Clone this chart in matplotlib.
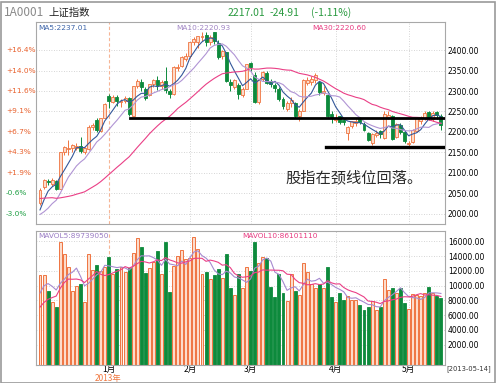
import numpy as np
import pandas as pd
import matplotlib
matplotlib.use("Agg")
import matplotlib.pyplot as plt
from matplotlib.patches import Rectangle

plt.rcParams['font.family'] = ['Noto Sans CJK SC', 'DejaVu Sans']

# closes / volumes before the first shown day, only used to start the moving averages
warmup_close = [2058, 2059, 2069, 2104, 2117, 2111, 2106, 2105, 2071, 2069,
                2070, 2036, 2041, 2025, 2014, 2017, 2010, 2025, 2011, 2027,
                2017, 1991, 1973, 1978, 1980, 1959, 1973, 2031, 2029]
warmup_vol = [5000, 5200, 5400, 5100, 5300, 6500, 7800, 9600, 9650]

# daily candles, 2012-12-07 .. 2013-05-14
opens = [2027, 2066, 2081, 2074, 2080, 2062, 2152, 2158, 2160, 2162,
         2166, 2150, 2158, 2212, 2230, 2203, 2234, 2289, 2273, 2286,
         2272, 2275, 2283, 2240, 2313, 2322, 2306, 2290, 2316, 2328,
         2312, 2324, 2300, 2293, 2355, 2360, 2378, 2385, 2420, 2420,
         2432, 2436, 2420, 2444, 2418, 2385, 2394, 2322, 2310, 2315,
         2290, 2305, 2368, 2340, 2272, 2330, 2345, 2325, 2315, 2305,
         2280, 2257, 2270, 2270, 2238, 2252, 2320, 2322, 2328, 2322,
         2295, 2290, 2245, 2230, 2238, 2230, 2198, 2214, 2222, 2232,
         2220, 2198, 2172, 2192, 2203, 2185, 2236, 2240, 2188, 2218,
         2200, 2170, 2175, 2203, 2228, 2235, 2248, 2232, 2248, 2240]
highs = [2063, 2085, 2086, 2088, 2082, 2151, 2165, 2180, 2170, 2172,
         2188, 2163, 2216, 2222, 2235, 2234, 2270, 2292, 2291, 2291,
         2280, 2288, 2286, 2312, 2329, 2330, 2310, 2318, 2330, 2336,
         2328, 2358, 2305, 2360, 2365, 2386, 2392, 2420, 2431, 2435,
         2445, 2444, 2436, 2445, 2424, 2400, 2396, 2330, 2330, 2320,
         2310, 2366, 2370, 2346, 2330, 2350, 2348, 2330, 2320, 2310,
         2285, 2275, 2285, 2272, 2256, 2330, 2334, 2336, 2344, 2325,
         2312, 2292, 2250, 2245, 2240, 2232, 2215, 2228, 2232, 2236,
         2224, 2200, 2198, 2205, 2206, 2250, 2250, 2242, 2222, 2222,
         2205, 2178, 2208, 2237, 2240, 2252, 2252, 2252, 2251, 2244]
lows = [2022, 2062, 2070, 2068, 2058, 2060, 2143, 2145, 2152, 2155,
        2148, 2146, 2156, 2206, 2200, 2200, 2233, 2258, 2271, 2264,
        2262, 2270, 2240, 2238, 2307, 2301, 2278, 2287, 2310, 2303,
        2305, 2295, 2283, 2290, 2348, 2358, 2373, 2380, 2412, 2405,
        2421, 2410, 2412, 2415, 2378, 2377, 2323, 2300, 2305, 2280,
        2285, 2304, 2350, 2270, 2268, 2325, 2316, 2310, 2298, 2275,
        2255, 2250, 2262, 2235, 2228, 2250, 2315, 2315, 2320, 2290,
        2290, 2236, 2222, 2225, 2220, 2218, 2180, 2210, 2215, 2220,
        2203, 2178, 2168, 2188, 2185, 2183, 2232, 2180, 2185, 2195,
        2172, 2164, 2172, 2200, 2220, 2230, 2230, 2228, 2232, 2205]
closes = [2058, 2083, 2078, 2083, 2061, 2150, 2163, 2162, 2168, 2166,
          2153, 2160, 2213, 2216, 2205, 2233, 2269, 2276, 2285, 2276,
          2275, 2283, 2243, 2311, 2325, 2309, 2284, 2317, 2328, 2315,
          2321, 2302, 2292, 2358, 2359, 2382, 2385, 2419, 2428, 2433,
          2434, 2419, 2432, 2421, 2382, 2397, 2325, 2314, 2326, 2293,
          2306, 2365, 2359, 2273, 2326, 2347, 2319, 2318, 2308, 2280,
          2263, 2270, 2278, 2240, 2251, 2326, 2328, 2329, 2338, 2297,
          2300, 2240, 2237, 2234, 2225, 2225, 2212, 2226, 2226, 2225,
          2206, 2181, 2195, 2197, 2194, 2245, 2242, 2184, 2219, 2199,
          2178, 2174, 2205, 2235, 2236, 2247, 2235, 2247, 2242, 2217]
# volume in units of 10k
volumes = [11450, 11450, 9290, 7750, 7160, 15880, 14260, 12500, 9330, 9960,
           10280, 7840, 14260, 12130, 12810, 12050, 12580, 13850, 11550, 12230,
           12500, 11900, 12350, 14390, 16420, 15210, 11780, 12430, 13170, 14750,
           11630, 15970, 9190, 12660, 14070, 14840, 13620, 13710, 16560, 14930,
           11550, 11900, 10870, 11450, 12260, 11000, 14260, 9650, 8740, 11590,
           9690, 12580, 11990, 15970, 13040, 13930, 13800, 9870, 8520, 11550,
           8970, 7930, 11550, 9290, 8740, 13040, 11810, 10190, 9690, 10280,
           9690, 12580, 8520, 7750, 8970, 8070, 8660, 8070, 8030, 7390,
           6710, 7090, 7930, 6710, 7120, 10910, 9420, 9650, 8970, 9650,
           7620, 6810, 8880, 8740, 8650, 8970, 9870, 8970, 8650, 8290]

month_idx = [17, 37, 52, 73, 91]
month_labels = ['1月', '2月', '3月', '4月', '5月']
price_ticks = [2000, 2050, 2100, 2150, 2200, 2250, 2300, 2350, 2400]
pct_labels = ['-3.0%', '-0.6%', '+1.9%', '+4.3%', '+6.7%', '+9.1%', '+11.6%', '+14.0%', '+16.4%']
vol_ticks = [2000, 4000, 6000, 8000, 10000, 12000, 14000, 16000]

neckline = 2234
neck_start = 22.2
support = 2163
support_start = 70.5

UP_EDGE = '#ef7440'
UP_FILL = '#fcdccb'
DOWN = '#0d8a3c'
GRID = '#c8c8c8'

W, H = 500, 383
n = len(closes)
x = np.arange(n)
o, h, l, c = map(np.array, (opens, highs, lows, closes))
v = np.array(volumes)
up = c >= o

allc = pd.Series(warmup_close + closes)
ma5 = allc.rolling(5).mean().values[-n:]
ma10 = allc.rolling(10).mean().values[-n:]
ma30 = allc.rolling(30).mean().values[-n:]
allv = pd.Series(warmup_vol + volumes)
mav5 = allv.rolling(5).mean().values[-n:]
mav10 = allv.rolling(10).mean().values[-n:]

fig = plt.figure(figsize=(W / 100, H / 100), dpi=100)
ax = fig.add_axes([36 / W, 1 - 224 / H, (445 - 36) / W, (224 - 22) / H])
axv = fig.add_axes([36 / W, 1 - 364.5 / H, (445 - 36) / W, (364.5 - 231) / H])

xlim = (-0.99, 100.0)


def month_lines(a):
    for m in month_idx:
        if m == month_idx[0]:
            a.axvline(m, color='#f6b595', lw=0.8, ls=(0, (3, 2)), zorder=0)
        else:
            a.axvline(m, color=GRID, lw=0.6, ls=(0, (1, 2)), zorder=0)


# ---- price panel
for t in price_ticks:
    ax.axhline(t, color=GRID, lw=0.6, ls=(0, (1, 2)), zorder=0)
month_lines(ax)

wick_col = np.where(up, UP_EDGE, DOWN)
ax.vlines(x, l, h, colors=wick_col, lw=0.7, zorder=2)
body_h = np.maximum(np.abs(c - o), 0.8)
ax.bar(x[up], body_h[up], bottom=np.minimum(o, c)[up], width=0.72,
       facecolor=UP_FILL, edgecolor=UP_EDGE, lw=0.6, zorder=3)
ax.bar(x[~up], body_h[~up], bottom=np.minimum(o, c)[~up], width=0.72,
       facecolor=DOWN, edgecolor=DOWN, lw=0.6, zorder=3)

ax.plot(x, ma5, color='#34589a', lw=0.8, zorder=4)
ax.plot(x, ma10, color='#b094d4', lw=0.8, zorder=4)
ax.plot(x, ma30, color='#ea3f86', lw=0.8, zorder=4)

ax.plot([neck_start, xlim[1]], [neckline, neckline], color='black', lw=2.0, zorder=5)
ax.plot([support_start, xlim[1]], [support, support], color='black', lw=2.4, zorder=5)
ax.text(60.6, 2088, '股指在颈线位回落。', fontsize=11, color='#2a2a2a',
        ha='left', va='center', zorder=6)

ax.set_xlim(*xlim)
ax.set_ylim(1975.6, 2468.3)
ax.yaxis.tick_right()
ax.set_yticks(price_ticks)
ax.set_yticklabels([f'{t:.2f}' for t in price_ticks], fontsize=5.5,
                   family='DejaVu Sans')
ax.tick_params(axis='y', length=0, pad=2)
ax.set_xticks([])
for sp in ax.spines.values():
    sp.set_color('#a8a8a8')
    sp.set_linewidth(0.8)

tr = ax.get_yaxis_transform()
for t, s in zip(price_ticks, pct_labels):
    col = '#20a045' if s.startswith('-') else '#e8602c'
    ax.text(-30 / 409, t, s, fontsize=5.3, color=col, family='DejaVu Sans',
            ha='left', va='center', transform=tr)

ax.text(2 / 409, 1 - 6 / 202, 'MA5:2237.01', transform=ax.transAxes, fontsize=5.3,
        color='#3c64a8', family='DejaVu Sans', va='center')
ax.text(140 / 409, 1 - 6 / 202, 'MA10:2220.93', transform=ax.transAxes, fontsize=5.3,
        color='#a084c4', family='DejaVu Sans', va='center')
ax.text(276 / 409, 1 - 6 / 202, 'MA30:2220.60', transform=ax.transAxes, fontsize=5.3,
        color='#e83a80', family='DejaVu Sans', va='center')

# ---- volume panel
vfloor = -678
for t in vol_ticks:
    axv.axhline(t, color=GRID, lw=0.6, ls=(0, (1, 2)), zorder=0)
month_lines(axv)
axv.bar(x[up], v[up] - vfloor, bottom=vfloor, width=0.72,
        facecolor=UP_FILL, edgecolor=UP_EDGE, lw=0.7, zorder=2)
axv.bar(x[~up], v[~up] - vfloor, bottom=vfloor, width=0.72,
        facecolor=DOWN, edgecolor=DOWN, lw=0.6, zorder=2)
axv.plot(x, mav5, color='#a68ad0', lw=0.8, zorder=3)
axv.plot(x, mav10, color='#ea3f86', lw=0.8, zorder=3)

axv.set_xlim(*xlim)
axv.set_ylim(vfloor, 17412)
axv.yaxis.tick_right()
axv.set_yticks(vol_ticks)
axv.set_yticklabels([f'{t:.2f}' for t in vol_ticks], fontsize=5.5,
                    family='DejaVu Sans')
axv.tick_params(axis='y', length=0, pad=2)
axv.set_xticks(month_idx)
axv.set_xticklabels(month_labels, fontsize=6.2)
axv.tick_params(axis='x', length=0, pad=0.5)
for sp in axv.spines.values():
    sp.set_color('#a8a8a8')
    sp.set_linewidth(0.8)

axv.text(2 / 409, 1 - 5 / 133.5, 'MAVOL5:89739050', transform=axv.transAxes,
         fontsize=5.3, color='#9a7cc4', family='DejaVu Sans', va='center')
axv.text(206 / 409, 1 - 5 / 133.5, 'MAVOL10:86101110', transform=axv.transAxes,
         fontsize=5.3, color='#e83a80', family='DejaVu Sans', va='center')

# ---- header and frame
fig.text(4 / W, 1 - 13 / H, '1A0001', fontsize=8.5, color='#8a8a8a', va='center')
fig.text(48 / W, 1 - 13 / H, '上证指数', fontsize=7.5, color='#222222', va='center')
fig.text(228 / W, 1 - 13 / H, '2217.01', fontsize=7.5, color='#2a9a40', va='center')
fig.text(270 / W, 1 - 13 / H, '-24.91', fontsize=7.5, color='#2a9a40', va='center')
fig.text(311 / W, 1 - 13 / H, '(-1.11%)', fontsize=7.5, color='#2a9a40', va='center')
fig.text(108 / W, 1 - 378.5 / H, '2013年', fontsize=6, color='#f07840',
         ha='center', va='center')
fig.text(446 / W, 1 - 369 / H, '[2013-05-14]', fontsize=4.9, color='#333333',
         family='DejaVu Sans', va='center')

fig.add_artist(Rectangle((0.5 / W, 1 - 382.5 / H), 494 / W, 380.5 / H,
                         transform=fig.transFigure, fill=False,
                         edgecolor='#9a9a9a', lw=1.2))

fig.savefig('out.png', dpi=100)
